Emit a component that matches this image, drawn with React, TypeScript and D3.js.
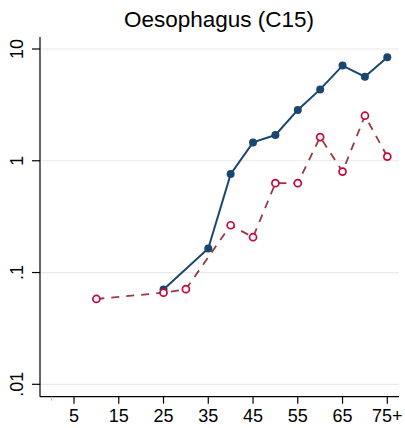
import React from "react";
import * as d3 from "d3";

const title = "Oesophagus (C15)";
const xTickValues = [5, 15, 25, 35, 45, 55, 65, 75];
const xTickLabels = ["5", "15", "25", "35", "45", "55", "65", "75+"];
const yTickValues = [0.01, 0.1, 1, 10];
const yTickLabels = [".01", ".1", "1", "10"];

const seriesAAges = [25, 35, 40, 45, 50, 55, 60, 65, 70, 75];
const seriesAValues = [0.0706, 0.164, 0.76, 1.46, 1.7, 2.85, 4.35, 7.1, 5.65, 8.43];

const seriesBAges = [10, 25, 30, 40, 45, 50, 55, 60, 65, 70, 75];
const seriesBValues = [0.058, 0.066, 0.071, 0.265, 0.207, 0.63, 0.63, 1.63, 0.8, 2.53, 1.09];

const W = 405;
const H = 428;
const FONT = "'Liberation Sans', Arial, Helvetica, sans-serif";

export default function App() {
  const x = d3.scaleLinear().domain([5, 75]).range([74, 387.3]);
  const y = d3.scaleLog().domain([0.01, 10]).range([384.3, 49]);
  const left = 40;
  const right = 399;
  const top = 37;
  const bottom = 396.7;

  const ptsA = seriesAAges.map((a, i) => [a, seriesAValues[i]] as [number, number]);
  const ptsB = seriesBAges.map((a, i) => [a, seriesBValues[i]] as [number, number]);
  const line = d3
    .line<[number, number]>()
    .x((d) => x(d[0]))
    .y((d) => y(d[1]));

  return (
    <svg
      width={W}
      height={H}
      style={{ position: "fixed", left: 0, top: 0, background: "#fff" }}
      fontFamily={FONT}
    >
      <rect x={0} y={0} width={W} height={H} fill="#fff" />
      <text x={219} y={27} fontSize={22.5} textAnchor="middle" fill="#000">
        {title}
      </text>
      {yTickValues.map((v) => (
        <line key={"g" + v} x1={left} x2={right} y1={y(v)} y2={y(v)} stroke="#eaeaea" strokeWidth={1.2} />
      ))}
      <path d={line(ptsB) || ""} fill="none" stroke="#963a40" strokeWidth={1.8} strokeDasharray="8,7" />
      <path d={line(ptsA) || ""} fill="none" stroke="#1a476f" strokeWidth={2} />
      {ptsA.map((d, i) => (
        <circle key={"a" + i} cx={x(d[0])} cy={y(d[1])} r={4} fill="#1a476f" />
      ))}
      {ptsB.map((d, i) => (
        <circle key={"b" + i} cx={x(d[0])} cy={y(d[1])} r={3.5} fill="#fff" stroke="#c8063a" strokeWidth={1.7} />
      ))}
      <line x1={left} x2={left} y1={top} y2={bottom} stroke="#000" strokeWidth={1.2} />
      <line x1={left} x2={right} y1={bottom} y2={bottom} stroke="#000" strokeWidth={1.2} />
      {yTickValues.map((v, i) => (
        <g key={"yt" + v}>
          <line x1={left - 8} x2={left} y1={y(v)} y2={y(v)} stroke="#000" strokeWidth={1.2} />
          <text
            transform={`translate(${23},${y(v)}) rotate(-90)`}
            fontSize={18}
            textAnchor="middle"
            fill="#000"
          >
            {yTickLabels[i]}
          </text>
        </g>
      ))}
      <line x1={x(0)} x2={x(0)} y1={bottom} y2={bottom + 4} stroke="#bbb" strokeWidth={1} />
      {xTickValues.map((v, i) => (
        <g key={"xt" + v}>
          <line x1={x(v)} x2={x(v)} y1={bottom} y2={bottom + 7} stroke="#000" strokeWidth={1.2} />
          <text x={x(v)} y={421.5} fontSize={18} textAnchor="middle" fill="#000">
            {xTickLabels[i]}
          </text>
        </g>
      ))}
    </svg>
  );
}
